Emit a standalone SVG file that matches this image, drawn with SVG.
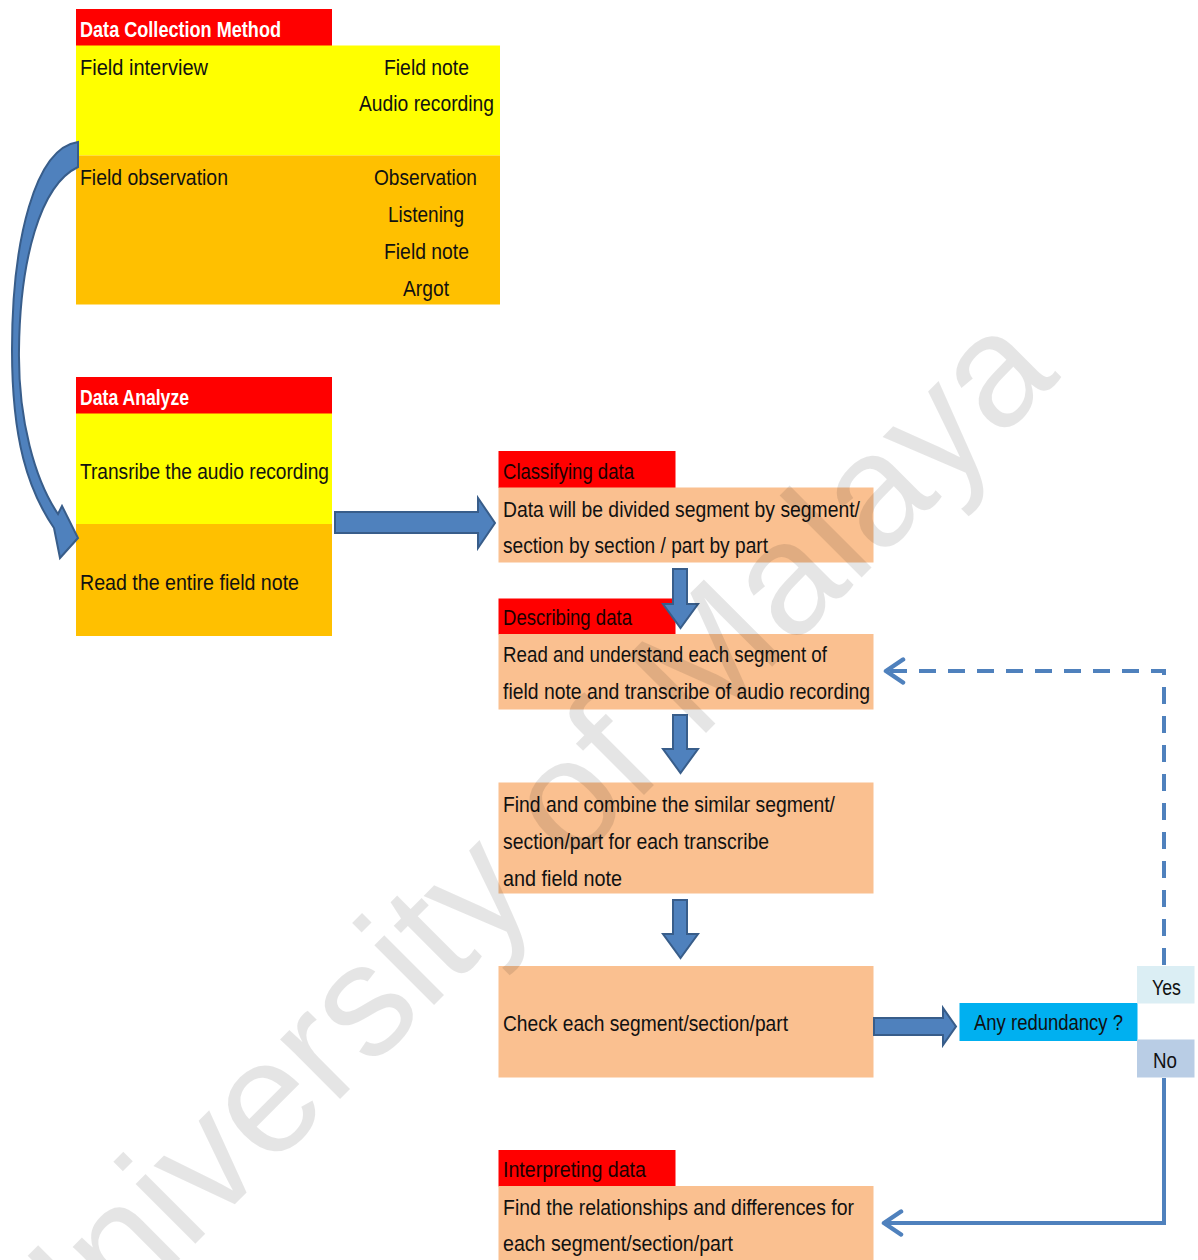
<svg xmlns="http://www.w3.org/2000/svg" width="1198" height="1260" viewBox="0 0 1198 1260">
<style>
text{font-family:"Liberation Sans",Arial,sans-serif;font-size:22px;fill:#111;}
.hw{fill:#fff;font-weight:bold;}
.hd{fill:#1a0000;}
.red{fill:#ff0000;}
.yel{fill:#ffff00;}
.org{fill:#ffc000;}
.peach{fill:#fac090;}
.blk{fill:#4f81bd;stroke:#385d8a;stroke-width:2;stroke-linejoin:miter;}
.conn{fill:none;stroke:#4f81bd;stroke-width:4;}
.wm{font-family:"Liberation Sans",Arial,sans-serif;font-size:160px;fill:#000;fill-opacity:0.1;}
</style>
<defs>
<marker id="chev" markerUnits="userSpaceOnUse" markerWidth="40" markerHeight="40" viewBox="-20 -20 40 40" refX="0" refY="0" orient="auto">
<path d="M-17,-11.5 L0,0 L-17,11.5" fill="none" stroke="#4f81bd" stroke-width="4.5" stroke-linecap="round" stroke-linejoin="round"/>
</marker>
</defs>

<g id="data-collection">
<rect class="red" x="76" y="9" width="256" height="37"/>
<rect class="yel" x="76" y="45.5" width="424" height="110"/>
<rect class="org" x="76" y="155.5" width="424" height="149"/>
<text class="hw" x="80" y="37" textLength="201" lengthAdjust="spacingAndGlyphs">Data Collection Method</text>
<text x="80" y="75" textLength="128" lengthAdjust="spacingAndGlyphs">Field interview</text>
<text x="384" y="75" textLength="85" lengthAdjust="spacingAndGlyphs">Field note</text>
<text x="359" y="111" textLength="135" lengthAdjust="spacingAndGlyphs">Audio recording</text>
<text x="80" y="185" textLength="148" lengthAdjust="spacingAndGlyphs">Field observation</text>
<text x="374" y="185" textLength="103" lengthAdjust="spacingAndGlyphs">Observation</text>
<text x="388" y="222" textLength="76" lengthAdjust="spacingAndGlyphs">Listening</text>
<text x="384" y="259" textLength="85" lengthAdjust="spacingAndGlyphs">Field note</text>
<text x="403" y="296" textLength="46" lengthAdjust="spacingAndGlyphs">Argot</text>
</g>

<g id="data-analyze">
<rect class="red" x="76" y="377" width="256" height="37"/>
<rect class="yel" x="76" y="413.5" width="256" height="111"/>
<rect class="org" x="76" y="524" width="256" height="112"/>
<text class="hw" x="80" y="405" textLength="109" lengthAdjust="spacingAndGlyphs">Data Analyze</text>
<text x="80" y="479" textLength="249" lengthAdjust="spacingAndGlyphs">Transribe the audio recording</text>
<text x="80" y="590" textLength="219" lengthAdjust="spacingAndGlyphs">Read the entire field note</text>
</g>

<g id="classifying">
<rect class="red" x="498.5" y="451" width="177" height="37"/>
<rect class="peach" x="498.5" y="487.5" width="375" height="75"/>
<text class="hd" x="503" y="479" textLength="131" lengthAdjust="spacingAndGlyphs">Classifying data</text>
<text x="503" y="517" textLength="357" lengthAdjust="spacingAndGlyphs">Data will be divided segment by segment/</text>
<text x="503" y="553" textLength="265" lengthAdjust="spacingAndGlyphs">section by section / part by part</text>
</g>

<g id="describing">
<rect class="red" x="498.5" y="598.5" width="177" height="36"/>
<rect class="peach" x="498.5" y="634" width="375" height="75.5"/>
<text class="hd" x="503" y="625" textLength="129" lengthAdjust="spacingAndGlyphs">Describing data</text>
<text x="503" y="662" textLength="324" lengthAdjust="spacingAndGlyphs">Read and understand each segment of</text>
<text x="503" y="699" textLength="367" lengthAdjust="spacingAndGlyphs">field note and transcribe of audio recording</text>
</g>

<g id="combine">
<rect class="peach" x="498.5" y="782.5" width="375" height="111"/>
<text x="503" y="812" textLength="332" lengthAdjust="spacingAndGlyphs">Find and combine the similar segment/</text>
<text x="503" y="849" textLength="266" lengthAdjust="spacingAndGlyphs">section/part for each transcribe</text>
<text x="503" y="886" textLength="119" lengthAdjust="spacingAndGlyphs">and field note</text>
</g>

<g id="check">
<rect class="peach" x="498.5" y="966" width="375" height="111.5"/>
<text x="503" y="1031" textLength="285" lengthAdjust="spacingAndGlyphs">Check each segment/section/part</text>
</g>

<g id="redundancy">
<rect fill="#00b0f0" x="959.5" y="1003" width="178" height="38"/>
<text x="974" y="1030" textLength="149" lengthAdjust="spacingAndGlyphs">Any redundancy ?</text>
</g>

<g id="yes">
<rect fill="#dbeef4" x="1137" y="966" width="57.5" height="37.5"/>
<text x="1152" y="995" textLength="29" lengthAdjust="spacingAndGlyphs">Yes</text>
</g>

<g id="no">
<rect fill="#b9cde5" x="1137" y="1039.5" width="57.5" height="38"/>
<text x="1153" y="1068" textLength="24" lengthAdjust="spacingAndGlyphs">No</text>
</g>

<g id="interpreting">
<rect class="red" x="498.5" y="1150" width="177" height="36.5"/>
<rect class="peach" x="498.5" y="1186" width="375" height="80"/>
<text class="hd" x="503" y="1177" textLength="143" lengthAdjust="spacingAndGlyphs">Interpreting data</text>
<text x="503" y="1215" textLength="351" lengthAdjust="spacingAndGlyphs">Find the relationships and differences for</text>
<text x="503" y="1251" textLength="230" lengthAdjust="spacingAndGlyphs">each segment/section/part</text>
</g>

<g id="connectors">
<path class="blk" d="M78,142 C35,148 12,240 12,350 C12,440 28,490 54,528 L60,558 L78,538 L62,506 L58,514 C35,480 18,420 19,350 C20,260 40,185 78,167 Z"/>
<path class="blk" d="M335,512 L478,512 L478,498 L495,523 L478,548 L478,533 L335,533 Z"/>
<path class="blk" d="M673,569 L687,569 L687,604 L698,604 L680.5,628 L663,604 L673,604 Z"/>
<path class="blk" d="M673,715 L687,715 L687,749 L698,749 L680.5,773 L663,749 L673,749 Z"/>
<path class="blk" d="M673,900 L687,900 L687,934 L698,934 L680.5,958 L663,934 L673,934 Z"/>
<path class="blk" d="M874,1018 L943,1018 L943,1008 L956,1026.5 L943,1045 L943,1035 L874,1035 Z"/>
<path class="conn" stroke-dasharray="17 12" d="M1164,965 L1164,671 L886,671" marker-end="url(#chev)"/>
<path class="conn" d="M1164,1078 L1164,1223 L884,1223" marker-end="url(#chev)"/>
</g>

<text class="wm" transform="translate(43,1396) rotate(-45)">University of Malaya</text>
</svg>
